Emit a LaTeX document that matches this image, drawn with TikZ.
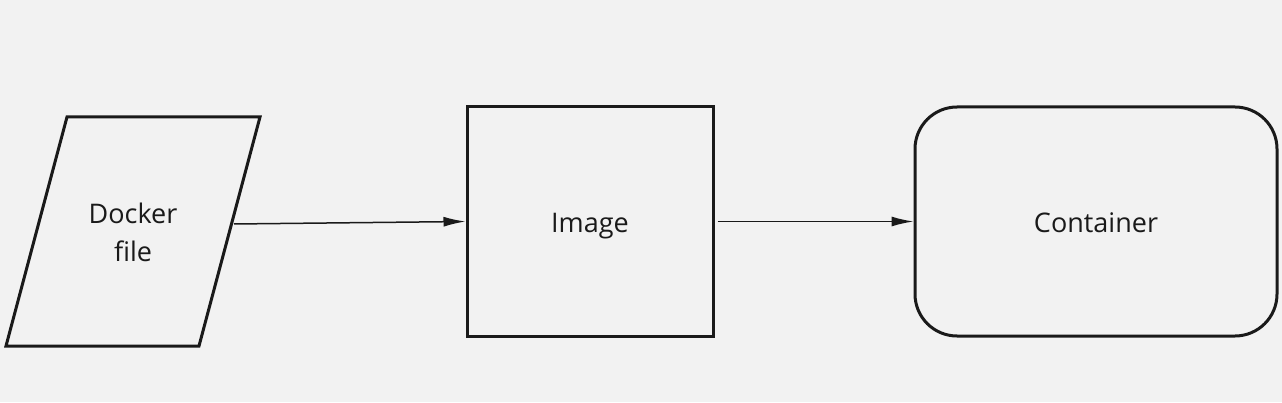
\documentclass[tikz,border=0pt]{standalone}
\usepackage{fontspec}
\setmainfont{Open Sans}
\usetikzlibrary{arrows.meta}
\definecolor{bg}{HTML}{F2F2F2}
\definecolor{ink}{HTML}{1A1A1A}
\definecolor{txt}{HTML}{1A1A1A}
\begin{document}
\begin{tikzpicture}[x=1pt,y=1pt,
  shapeline/.style={draw=ink,line width=3pt,line join=miter},
  lbl/.style={text=txt,font=\fontsize{27}{38}\selectfont,align=center,inner sep=0pt},
  boxnode/.style={shapeline,lbl,text height=30pt,text depth=7pt},
  flow/.style={draw=ink,line width=1.5pt,-{Latex[length=22pt,width=10pt]}}]
\fill[bg] (0,0) rectangle (1282,402);
\useasboundingbox (0,0) rectangle (1282,402);
% Docker file parallelogram
\draw[shapeline] (67,285) -- (260,285) -- (199,56) -- (6,56) -- cycle;
\node[lbl,anchor=base] (dock) at (133,140) {Docker\\file};
\coordinate (dockout) at (234,178);
% Image
\node[boxnode,minimum width=246pt,minimum height=229pt] (img) at (590,180.5) {Image};
% Container
\node[boxnode,rounded corners=42pt,minimum width=362pt,minimum height=229pt] (cont) at (1096,180.5) {Container};
% arrows
\draw[flow] (dockout) -- (img.west);
\draw[flow,shorten <=3pt] (img.east) -- (cont.west);
\end{tikzpicture}
\end{document}
